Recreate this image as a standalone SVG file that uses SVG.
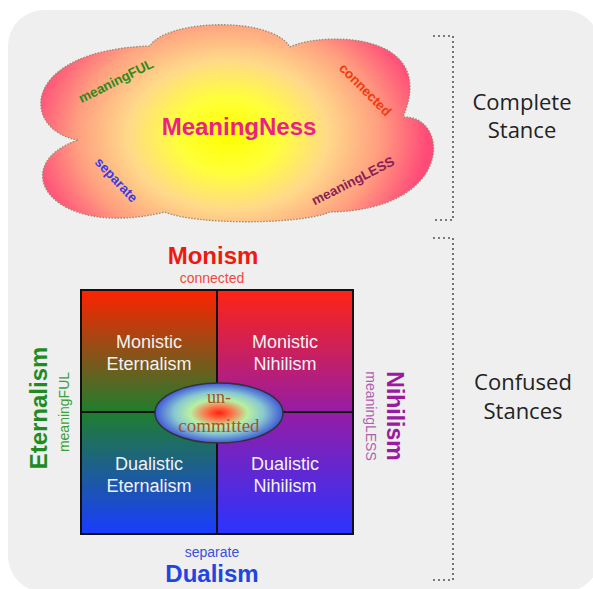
<svg xmlns="http://www.w3.org/2000/svg" width="593" height="589" viewBox="0 0 593 589">
<defs>
<radialGradient id="cloudGrad" gradientUnits="userSpaceOnUse" cx="228" cy="135" r="200" gradientTransform="translate(228 135) scale(1 0.75) translate(-228 -135)">
<stop offset="0" stop-color="#ffff00"/>
<stop offset="0.25" stop-color="#ffff3a"/>
<stop offset="0.5" stop-color="#ffd98a"/>
<stop offset="0.75" stop-color="#ffa080"/>
<stop offset="1" stop-color="#ff4a78"/>
</radialGradient>
<linearGradient id="leftCol" x1="0" y1="0" x2="0" y2="1">
<stop offset="0" stop-color="#ff2200"/>
<stop offset="0.5" stop-color="#1f7e2e"/>
<stop offset="1" stop-color="#1a3cff"/>
</linearGradient>
<linearGradient id="rightCol" x1="0" y1="0" x2="0" y2="1">
<stop offset="0" stop-color="#ff2414"/>
<stop offset="0.5" stop-color="#961ca6"/>
<stop offset="1" stop-color="#2a34ff"/>
</linearGradient>
<radialGradient id="ovalGrad" cx="0.5" cy="0.5" r="0.5">
<stop offset="0" stop-color="#ff2010"/>
<stop offset="0.2" stop-color="#ff7048"/>
<stop offset="0.45" stop-color="#b8f0a0"/>
<stop offset="0.7" stop-color="#88c8d0"/>
<stop offset="1" stop-color="#4058d8"/>
</radialGradient>
<style>
.sans{font-family:"Liberation Sans",Arial,sans-serif}
.b{font-weight:bold}
.stance{font-family:"Open Sans","Noto Sans",sans-serif;font-size:22px;fill:#222;text-anchor:middle}
.quad{font-family:"Liberation Sans",Arial,sans-serif;font-size:18px;fill:#f2f2f2;text-anchor:middle}
.bracket{fill:none;stroke:#555;stroke-width:1.6;stroke-dasharray:2 3}
.mid{text-anchor:middle}
</style>
</defs>

<rect x="8" y="10" width="592" height="582" rx="36" fill="#efefef"/>

<g id="complete-stance">
<path d="M78,140 C20,130 20,50 150,46 C165,20 270,15 290,47 C320,32 440,30 403,117 C450,115 455,210 330,212 C300,225 195,225 165,212 C50,240 5,165 78,140 Z" fill="url(#cloudGrad)" stroke="#9a8a70" stroke-width="1.3" stroke-dasharray="1.5 1.5"/>
<text class="sans b mid" x="239" y="135" font-size="24" fill="#ea218a">MeaningNess</text>
<text class="sans b mid" font-size="13.5" fill="#2a8a1a" transform="translate(118,85) rotate(-26.5)">meaningFUL</text>
<text class="sans b mid" font-size="13.5" fill="#f03a10" transform="translate(362,93) rotate(45.5)">connected</text>
<text class="sans b mid" font-size="13.5" fill="#3a3ae8" transform="translate(113,183) rotate(47)">separate</text>
<text class="sans b mid" font-size="13.5" fill="#8a2256" transform="translate(355,185) rotate(-27)">meaningLESS</text>
</g>

<g id="connectors">
<path class="bracket" d="M433,36 H453 V220 H433"/>
<path class="bracket" d="M433,238 H453 V580 H433"/>
</g>

<g id="label-complete">
<text class="stance" x="522" y="110">Complete</text>
<text class="stance" x="522" y="138">Stance</text>
</g>
<g id="label-confused">
<text class="stance" x="523" y="390">Confused</text>
<text class="stance" x="523" y="419">Stances</text>
</g>

<g id="grid">
<rect x="81" y="290" width="136" height="244" fill="url(#leftCol)"/>
<rect x="217" y="290" width="136" height="244" fill="url(#rightCol)"/>
<rect x="81" y="290" width="272" height="244" fill="none" stroke="#111" stroke-width="2"/>
<line x1="217" y1="290" x2="217" y2="534" stroke="#111" stroke-width="2"/>
<line x1="81" y1="412" x2="353" y2="412" stroke="#111" stroke-width="2"/>
</g>

<g id="monistic-eternalism">
<text class="quad" x="149" y="348">Monistic</text>
<text class="quad" x="149" y="370">Eternalism</text>
</g>
<g id="monistic-nihilism">
<text class="quad" x="285" y="348">Monistic</text>
<text class="quad" x="285" y="370">Nihilism</text>
</g>
<g id="dualistic-eternalism">
<text class="quad" x="149" y="470">Dualistic</text>
<text class="quad" x="149" y="492">Eternalism</text>
</g>
<g id="dualistic-nihilism">
<text class="quad" x="285" y="470">Dualistic</text>
<text class="quad" x="285" y="492">Nihilism</text>
</g>

<g id="uncommitted">
<ellipse cx="219" cy="413" rx="64" ry="30" fill="url(#ovalGrad)" stroke="#333" stroke-width="1.5"/>
<text x="219" y="403" text-anchor="middle" font-family="Liberation Serif,serif" font-size="18" fill="#a8502e">un-</text>
<text x="219" y="432" text-anchor="middle" font-family="Liberation Serif,serif" font-size="19" fill="#a8502e">committed</text>
</g>

<g id="monism">
<text class="sans b mid" x="213" y="264" font-size="24" fill="#ee1a10">Monism</text>
<text class="sans mid" x="212" y="283" font-size="14" fill="#ee4a40">connected</text>
</g>
<g id="dualism">
<text class="sans mid" x="212" y="557" font-size="14" fill="#3a50e0">separate</text>
<text class="sans b mid" x="212" y="582" font-size="24" fill="#2244e0">Dualism</text>
</g>
<g id="eternalism">
<text class="sans b mid" font-size="24" fill="#1e8c22" transform="translate(47,408) rotate(-90)">Eternalism</text>
<text class="sans mid" font-size="14" fill="#3aa03a" transform="translate(69,412) rotate(-90)">meaningFUL</text>
</g>
<g id="nihilism">
<text class="sans b mid" font-size="23" fill="#9a1aa0" transform="translate(387,416) rotate(90)">Nihilism</text>
<text class="sans mid" font-size="14" fill="#b060b0" transform="translate(366,416) rotate(90)">meaningLESS</text>
</g>
</svg>
